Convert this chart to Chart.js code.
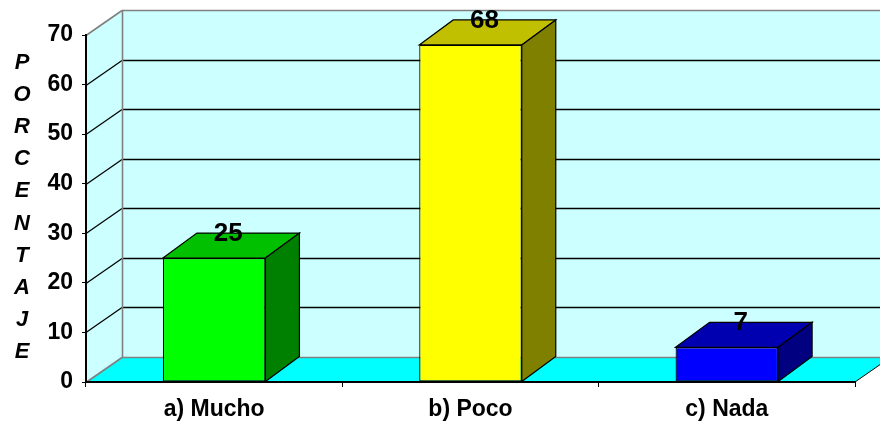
<!DOCTYPE html>
<html>
<head>
<meta charset="utf-8">
<script src="https://cdn.jsdelivr.net/npm/chart.js@4/dist/chart.umd.min.js"></script>
<style>
  html, body { margin: 0; padding: 0; background: #ffffff; }
  #wrap { width: 880px; height: 423px; }
</style>
</head>
<body>
<div id="wrap"><canvas id="grafico"></canvas></div>
<script>
// Survey results (percent)
const categories = ['a) Mucho', 'b) Poco', 'c) Nada'];
const porcentajes = [25, 68, 7];
const yTickValues = [0, 10, 20, 30, 40, 50, 60, 70];
const axisTitle = 'PORCENTAJE';

// Face colours of each 3-D bar
const frontColors = ['#00FF00', '#FFFF00', '#0000FF'];
const topColors = ['#00C000', '#C0C000', '#0000B0'];
const sideColors = ['#008000', '#808000', '#000080'];

// Depth offsets of the pseudo-3D box
const WALL_DX = 36, WALL_DY = -25;
const BAR_DX = 34, BAR_DY = -25;

const FONT = '"Liberation Sans", Arial, sans-serif';

function poly(ctx, pts, fill, stroke, lw) {
  ctx.beginPath();
  ctx.moveTo(pts[0][0], pts[0][1]);
  for (let i = 1; i < pts.length; i++) ctx.lineTo(pts[i][0], pts[i][1]);
  ctx.closePath();
  if (fill) { ctx.fillStyle = fill; ctx.fill(); }
  if (stroke) { ctx.strokeStyle = stroke; ctx.lineWidth = lw || 1; ctx.stroke(); }
}

function line(ctx, x1, y1, x2, y2, color, lw) {
  ctx.beginPath();
  ctx.moveTo(x1, y1);
  ctx.lineTo(x2, y2);
  ctx.strokeStyle = color;
  ctx.lineWidth = lw;
  ctx.stroke();
}

// Walls, floor and gridlines behind the bars
const wallsPlugin = {
  id: 'walls3d',
  beforeDraw(chart) {
    const ctx = chart.ctx;
    const a = chart.chartArea;
    const y = chart.scales.y;
    ctx.save();
    ctx.fillStyle = '#ffffff';
    ctx.fillRect(0, 0, chart.width, chart.height);
    const L = a.left, R = a.right, T = a.top, B = a.bottom;
    // left side wall
    poly(ctx, [[L, T], [L + WALL_DX, T + WALL_DY], [L + WALL_DX, B + WALL_DY], [L, B]], '#CCFFFF');
    // back wall
    poly(ctx, [[L + WALL_DX, T + WALL_DY], [R + WALL_DX, T + WALL_DY], [R + WALL_DX, B + WALL_DY], [L + WALL_DX, B + WALL_DY]], '#CCFFFF');
    // floor
    poly(ctx, [[L, B], [R, B], [R + WALL_DX, B + WALL_DY], [L + WALL_DX, B + WALL_DY]], '#00FFFF');
    // gridlines: diagonal on the side wall, horizontal on the back wall
    yTickValues.forEach(v => {
      const py = Math.round(y.getPixelForValue(v)) + 0.5;
      const edge = (v === yTickValues[0] || v === yTickValues[yTickValues.length - 1]);
      const col = edge ? '#808080' : '#000000';
      const lw = edge ? 1.6 : 1.3;
      line(ctx, L, py, L + WALL_DX, py + WALL_DY, col, lw);
      line(ctx, L + WALL_DX, py + WALL_DY, R + WALL_DX + 5, py + WALL_DY, col, lw);
    });
    // back-wall vertical edge
    line(ctx, L + WALL_DX + 0.5, T + WALL_DY, L + WALL_DX + 0.5, B + WALL_DY, '#808080', 1.6);
    // floor right edge
    line(ctx, R, B, R + WALL_DX, B + WALL_DY, '#000000', 1);
    ctx.restore();
  }
};

// Top and side faces of the bars plus value labels
const barsPlugin = {
  id: 'bars3d',
  afterDatasetsDraw(chart) {
    const ctx = chart.ctx;
    const meta = chart.getDatasetMeta(0);
    ctx.save();
    meta.data.forEach((bar, i) => {
      const p = bar.getProps(['x', 'y', 'base', 'width'], true);
      const l = p.x - p.width / 2, r = p.x + p.width / 2;
      const t = p.y, b = p.base;
      poly(ctx, [[l, t], [l + BAR_DX, t + BAR_DY], [r + BAR_DX, t + BAR_DY], [r, t]], topColors[i], '#000000', 1.2);
      poly(ctx, [[r, t], [r + BAR_DX, t + BAR_DY], [r + BAR_DX, b + BAR_DY], [r, b]], sideColors[i], '#000000', 1.2);
      ctx.fillStyle = '#000000';
      ctx.font = 'bold 26px ' + FONT;
      ctx.textAlign = 'center';
      ctx.textBaseline = 'middle';
      ctx.fillText(String(porcentajes[i]), p.x + BAR_DX / 2 - 3, t + BAR_DY + 1);
    });
    ctx.restore();
  },
  afterDraw(chart) {
    // vertical stacked axis title
    const ctx = chart.ctx;
    ctx.save();
    ctx.fillStyle = '#000000';
    ctx.font = 'italic bold 22px ' + FONT;
    ctx.textAlign = 'center';
    ctx.textBaseline = 'middle';
    const letters = axisTitle.split('');
    const y0 = 63, step = 32.1;
    letters.forEach((ch, i) => ctx.fillText(ch, 22, y0 + i * step));
    ctx.restore();
  }
};

new Chart(document.getElementById('grafico'), {
  type: 'bar',
  data: {
    labels: categories,
    datasets: [{
      data: porcentajes,
      backgroundColor: frontColors,
      borderColor: '#000000',
      borderWidth: 1.2,
      borderSkipped: false,
      barPercentage: 0.4,
      categoryPercentage: 1.0
    }]
  },
  options: {
    responsive: true,
    maintainAspectRatio: false,
    animation: false,
    devicePixelRatio: 1,
    layout: { padding: { top: 35, right: 25, left: 0, bottom: 0 } },
    plugins: {
      legend: { display: false },
      tooltip: { enabled: false }
    },
    scales: {
      x: {
        afterFit(scale) { scale.height = 41; },
        grid: { drawOnChartArea: false, drawTicks: true, tickLength: 5, color: '#000000', offset: true },
        border: { display: true, color: '#000000', width: 2 },
        ticks: {
          color: '#000000',
          font: { family: FONT, size: 23, weight: 'bold' },
          padding: 9
        }
      },
      y: {
        min: 0,
        max: 70,
        afterFit(scale) { scale.width = 86; },
        afterBuildTicks(scale) { scale.ticks = yTickValues.map(v => ({ value: v })); },
        grid: { drawOnChartArea: false, drawTicks: true, tickLength: 4, color: '#000000' },
        border: { display: true, color: '#000000', width: 2 },
        ticks: {
          color: '#000000',
          font: { family: FONT, size: 23, weight: 'bold' },
          padding: 9
        }
      }
    }
  },
  plugins: [wallsPlugin, barsPlugin]
});
</script>
</body>
</html>
